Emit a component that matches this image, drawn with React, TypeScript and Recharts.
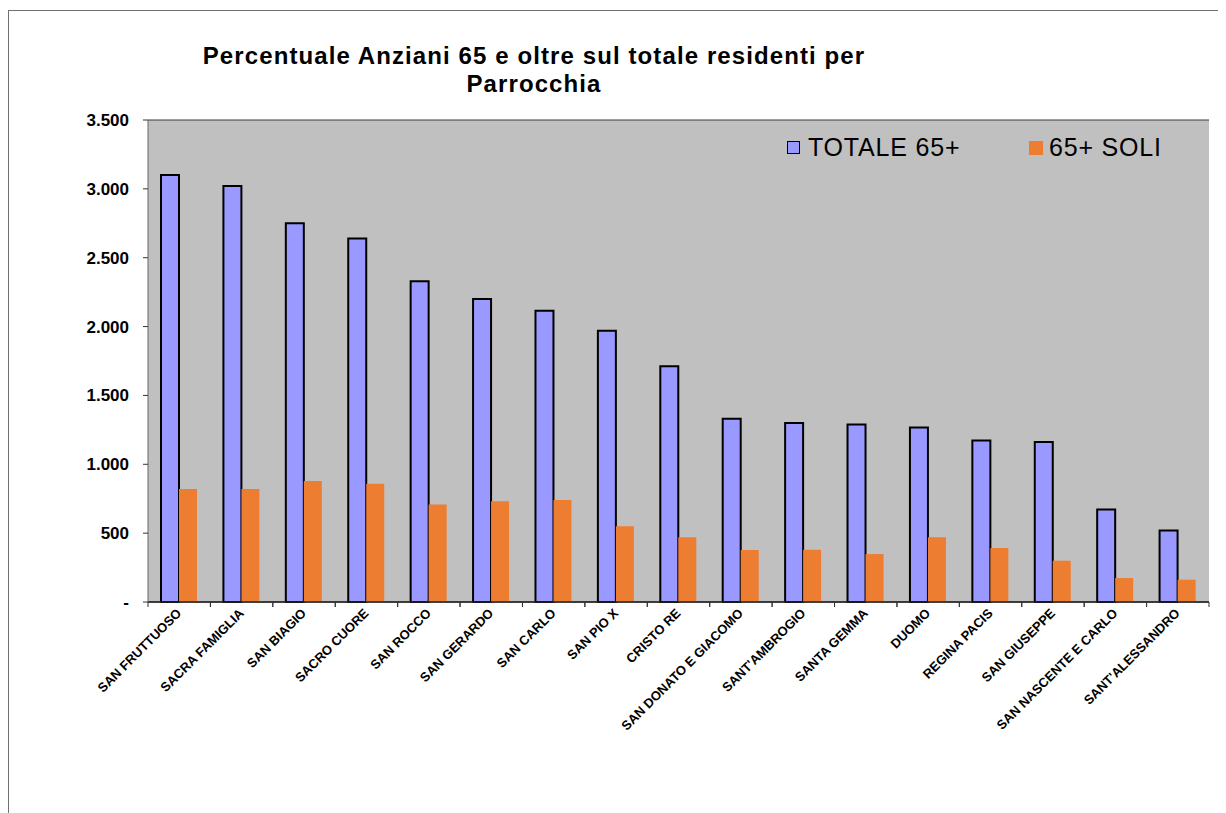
import React from 'react';
import { BarChart, Bar, XAxis, YAxis, CartesianGrid, Legend } from 'recharts';

// Valori
const parrocchie = [
  'SAN FRUTTUOSO',
  'SACRA FAMIGLIA',
  'SAN BIAGIO',
  'SACRO CUORE',
  'SAN ROCCO',
  'SAN GERARDO',
  'SAN CARLO',
  'SAN PIO X',
  'CRISTO RE',
  'SAN DONATO E GIACOMO',
  "SANT'AMBROGIO",
  'SANTA GEMMA',
  'DUOMO',
  'REGINA PACIS',
  'SAN GIUSEPPE',
  'SAN NASCENTE E CARLO',
  "SANT'ALESSANDRO",
];
const totale65 = [3100, 3020, 2750, 2640, 2330, 2200, 2115, 1970, 1712, 1330, 1300, 1288, 1268, 1173, 1162, 672, 520];
const soli65 = [820, 820, 878, 858, 708, 732, 740, 550, 470, 378, 380, 348, 470, 392, 300, 174, 162];
const yTicks = [0, 500, 1000, 1500, 2000, 2500, 3000, 3500];

const data = parrocchie.map((name, i) => ({
  name,
  totale: totale65[i],
  soli: soli65[i],
}));

const FONT = '"Liberation Sans", Arial, sans-serif';
const BLUE = '#9999FF';
const ORANGE = '#ED7D31';

const PLOT_WIDTH = 1061;
const BAND = PLOT_WIDTH / parrocchie.length;

const fmt = (v: number) => (v === 0 ? '-' : v.toLocaleString('de-DE'));

function XTick(props: any) {
  const { x, y, payload } = props;
  return (
    <g>
      <line x1={x - BAND / 2} x2={x - BAND / 2} y1={y} y2={y + 5} stroke="#333" />
      <line x1={x + BAND / 2} x2={x + BAND / 2} y1={y} y2={y + 5} stroke="#333" />
      <text
        x={x + 3}
        y={y + 12}
        textAnchor="end"
        transform={`rotate(-45 ${x + 3} ${y + 12})`}
        fontFamily={FONT}
        fontSize={13}
        fontWeight="bold"
        fill="#000"
      >
        {payload.value}
      </text>
    </g>
  );
}

function LegendBox() {
  return (
    <div
      style={{
        display: 'flex',
        alignItems: 'center',
        fontFamily: FONT,
        fontSize: 25,
        letterSpacing: 0.8,
        color: '#000',
      }}
    >
      <div style={{ display: 'flex', alignItems: 'center', width: 242 }}>
        <span style={{ width: 13, height: 13, boxSizing: 'border-box', border: '1px solid #000', background: BLUE, marginRight: 8 }} />
        <span>TOTALE 65+</span>
      </div>
      <div style={{ display: 'flex', alignItems: 'center' }}>
        <span style={{ width: 14, height: 14, background: ORANGE, marginRight: 6 }} />
        <span>65+ SOLI</span>
      </div>
    </div>
  );
}

export default function App() {
  return (
    <div
      style={{
        position: 'relative',
        width: 1218,
        height: 803,
        marginTop: 2,
        boxSizing: 'border-box',
        borderLeft: '1px solid #707070',
        borderTop: '1px solid #707070',
        background: '#fff',
      }}
    >
      <div
        style={{
          position: 'absolute',
          left: 125,
          top: 31,
          width: 800,
          textAlign: 'center',
          fontFamily: FONT,
          fontWeight: 'bold',
          fontSize: 24,
          letterSpacing: 1.1,
          lineHeight: '28px',
          color: '#000',
        }}
      >
        Percentuale Anziani 65 e oltre sul totale residenti per
        <br />
        Parrocchia
      </div>
      <BarChart
        width={1217}
        height={802}
        data={data}
        margin={{ top: 109, right: 17, bottom: 61, left: 79 }}
        barGap={0}
        barSize={18}
      >
        <CartesianGrid vertical={false} fill="#C0C0C0" stroke="#3a3a3a" strokeOpacity={1} />
        <XAxis
          dataKey="name"
          interval={0}
          height={150}
          tick={<XTick />}
          tickLine={false}
          tickSize={0}
          tickMargin={0}
          axisLine={{ stroke: '#222', strokeWidth: 1.5 }}
        />
        <YAxis
          yAxisId="left"
          width={60}
          domain={[0, 3500]}
          ticks={yTicks}
          interval={0}
          tickFormatter={fmt}
          tickSize={5}
          tickMargin={14}
          tickLine={{ stroke: '#333' }}
          axisLine={{ stroke: '#666' }}
          tick={{ fontFamily: FONT, fontSize: 17, fontWeight: 'bold', fill: '#000' }}
        />
        <YAxis
          yAxisId="right"
          orientation="right"
          width={0}
          domain={[0, 3500]}
          tick={false}
          tickLine={false}
          axisLine={{ stroke: '#808080', strokeWidth: 2 }}
        />
        <Legend
          verticalAlign="middle"
          align="center"
          layout="horizontal"
          content={<LegendBox />}
          wrapperStyle={{ left: 778, top: 122, width: 420 }}
        />
        <Bar
          yAxisId="left"
          dataKey="totale"
          name="TOTALE 65+"
          fill={BLUE}
          stroke="#000"
          strokeWidth={2}
          isAnimationActive={false}
        />
        <Bar
          yAxisId="left"
          dataKey="soli"
          name="65+ SOLI"
          fill={ORANGE}
          isAnimationActive={false}
        />
      </BarChart>
    </div>
  );
}
